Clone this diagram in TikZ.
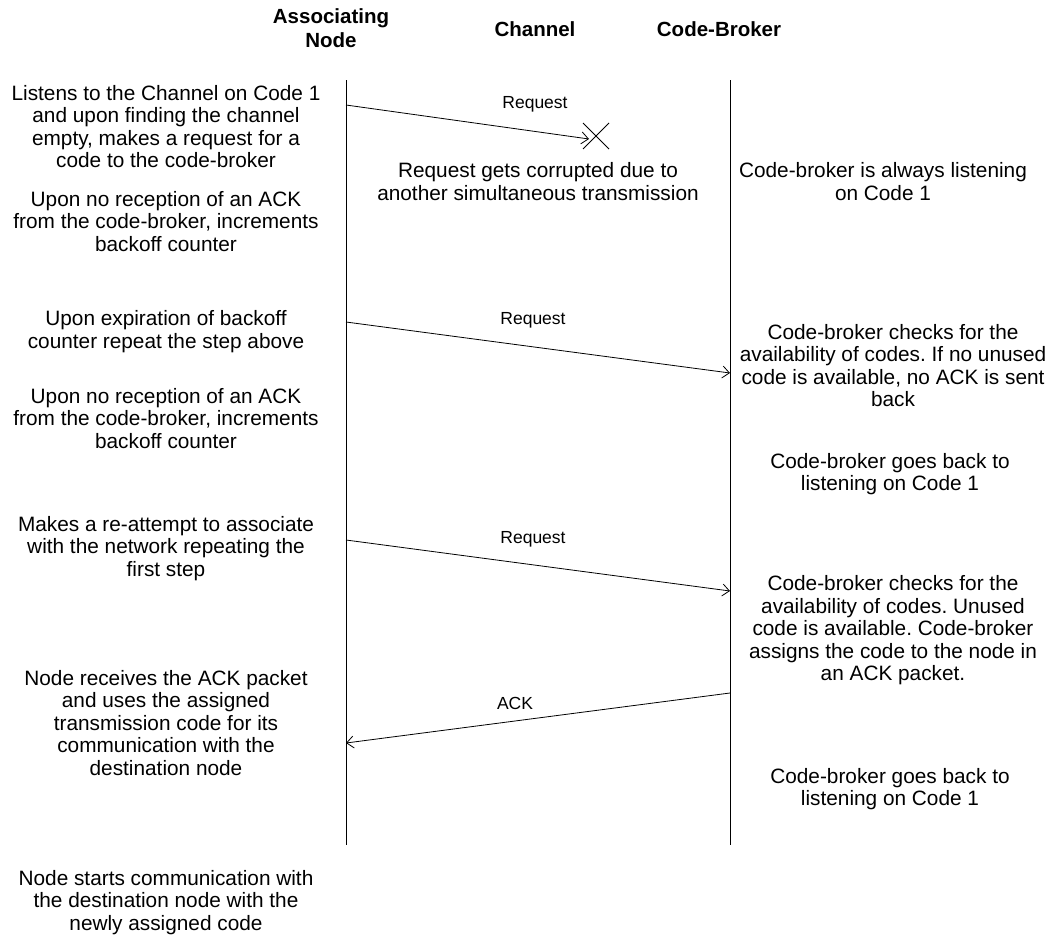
\documentclass[tikz,border=0pt]{standalone}
\usepackage{fontspec}
\setmainfont{Liberation Sans}
\usetikzlibrary{arrows.meta}
\frenchspacing
\begin{document}
\begin{tikzpicture}[x=1pt, y=-1pt,
    every node/.style={align=center, inner sep=0pt, font=\fontsize{20.8}{22.5}\selectfont},
    head/.style={font=\fontsize{20.5}{23.5}\selectfont\bfseries},
    msg/.style={font=\fontsize{17.5}{20}\selectfont},
    lifeline/.style={line width=0.9pt},
    sig/.style={line width=0.8pt, -{Straight Barb[length=7pt, width=12pt]}}]
    \useasboundingbox (0,0) rectangle (1058,940);
    % headers
    \node[head] (hnode) at (331, 28) {Associating\\Node};
    \node[head] (hchan) at (535, 29) {Channel};
    \node[head] (hbroker) at (719, 29) {Code-Broker};
    % lifelines
    \foreach \n/\x in {node/346, broker/730}{
        \coordinate (\n top) at (\x, 80);
        \coordinate (\n bot) at (\x, 845);
        \draw[lifeline] (\n top) -- (\n bot);
    }
    % messages
    \coordinate (req1s) at (346, 105);
    \coordinate (lost) at (589, 139);
    \coordinate (req2s) at (346, 322);
    \coordinate (req2e) at (730, 373);
    \coordinate (req3s) at (346, 540);
    \coordinate (req3e) at (730, 591);
    \coordinate (acks) at (730, 693);
    \coordinate (acke) at (346, 743);
    \draw[sig] (req1s) -- (lost);
    \draw[line width=0.8pt] (lost) ++(-6, -16) -- ++(26, 26) ++(-26, 0) -- ++(26, -26);
    \draw[sig] (req2s) -- (req2e);
    \draw[sig] (req3s) -- (req3e);
    \draw[sig] (acks) -- (acke);
    \node[msg] (lreq1) at (535, 104) {Request};
    \node[msg] (lreq2) at (533, 320) {Request};
    \node[msg] (lreq3) at (533, 539) {Request};
    \node[msg] (lack) at (515, 703) {ACK};
    % associating node side
    \node (n1) at (166, 126.5) {Listens to the Channel on Code 1\\and upon finding the channel\\empty, makes a request for a\\code to the code-broker};
    \node (n2) at (166, 221.5) {Upon no reception of an ACK\\from the code-broker, increments\\backoff counter};
    \node (n3) at (166, 331.5) {Upon expiration of backoff\\counter repeat the step above};
    \node (n4) at (166, 418.5) {Upon no reception of an ACK\\from the code-broker, increments\\backoff counter};
    \node (n5) at (166, 548.5) {Makes a re-attempt to associate\\with the network repeating the\\first step};
    \node (n6) at (166, 723) {Node receives the ACK packet\\and uses the assigned\\transmission code for its\\communication with the\\destination node};
    \node (n7) at (166, 902.5) {Node starts communication with\\the destination node with the\\newly assigned code};
    % channel
    \node (c1) at (538, 181.5) {Request gets corrupted due to\\another simultaneous transmission};
    % code-broker side
    \node (b1) at (883, 181.5) {Code-broker is always listening\\on Code 1};
    \node (b2) at (893, 365.5) {Code-broker checks for the\\availability of codes. If no unused\\code is available, no ACK is sent\\back};
    \node (b3) at (890, 474) {Code-broker goes back to\\listening on Code 1};
    \node (b4) at (893, 630.5) {Code-broker checks for the\\availability of codes. Unused\\code is available. Code-broker\\assigns the code to the node in\\an ACK packet.};
    \node (b5) at (890, 789) {Code-broker goes back to\\listening on Code 1};
\end{tikzpicture}
\end{document}
